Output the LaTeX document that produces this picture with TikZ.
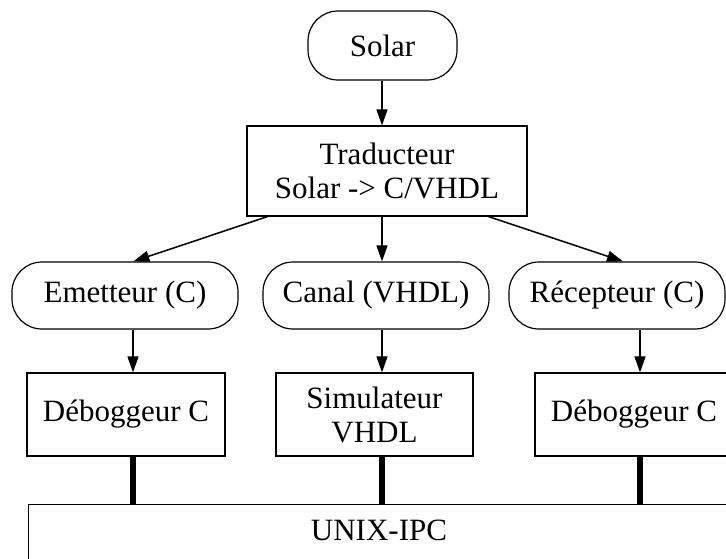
\documentclass[tikz,border=0pt]{standalone}
\usepackage{fontspec}
\setmainfont{Liberation Serif}
\usetikzlibrary{arrows.meta}
\begin{document}
\begin{tikzpicture}[x=1pt,y=-1pt,
 every node/.style={font=\fontsize{31}{34}\selectfont, inner sep=0pt},
 box/.style={draw, line width=1.2pt, align=center},
 term/.style={box, rounded corners=30pt},
 arr/.style={line width=1.5pt, -{Triangle[length=16pt,width=11pt]}},
 bus/.style={line width=6pt}]
\useasboundingbox (0,0) rectangle (726,559);
\clip (0,0) rectangle (726,559);
\coordinate (cx1) at (133,0);
\coordinate (cx2) at (382,0);
\coordinate (cx3) at (640,0);
\node[term, minimum width=149pt, minimum height=69pt] (solar) at (382.5,45.5) {Solar};
\node[box, minimum width=280pt, minimum height=90pt] (trad) at (387,171) {Traducteur\\Solar -> C/VHDL};
\node[term, minimum width=226pt, minimum height=67pt] (emet) at (125,295.5) {Emetteur (C)};
\node[term, minimum width=226pt, minimum height=67pt] (canal) at (376,295.5) {Canal (VHDL)};
\node[term, minimum width=216pt, minimum height=67pt] (recep) at (617,295.5) {Récepteur (C)};
\node[box, minimum width=198pt, minimum height=83pt] (deb1) at (126,414.5) {Déboggeur C};
\node[box, minimum width=197pt, minimum height=83pt] (simu) at (374.5,414.5) {Simulateur\\VHDL};
\node[box, minimum width=198pt, minimum height=83pt] (deb2) at (634,414.5) {Déboggeur C};
\node[box, minimum width=760pt, minimum height=100pt, anchor=north west] (unix) at (28,504) {};
\node (unixlbl) at (379,530) {UNIX-IPC};
\draw[arr] (solar.south -| cx2) -- (trad.north -| cx2);
\draw[arr] ([xshift=21pt]trad.south west) -- ([xshift=122pt]emet.north west);
\draw[arr] (trad.south -| cx2) -- (canal.north -| cx2);
\draw[arr] ([xshift=-39pt]trad.south east) -- ([xshift=6pt]recep.north);
\draw[arr] (emet.south -| cx1) -- (deb1.north -| cx1);
\draw[arr] (canal.south -| cx2) -- (simu.north -| cx2);
\draw[arr] (recep.south -| cx3) -- (deb2.north -| cx3);
\draw[bus] (deb1.south -| cx1) -- (unix.north -| cx1);
\draw[bus] (simu.south -| cx2) -- (unix.north -| cx2);
\draw[bus] (deb2.south -| cx3) -- (unix.north -| cx3);
\end{tikzpicture}
\end{document}
